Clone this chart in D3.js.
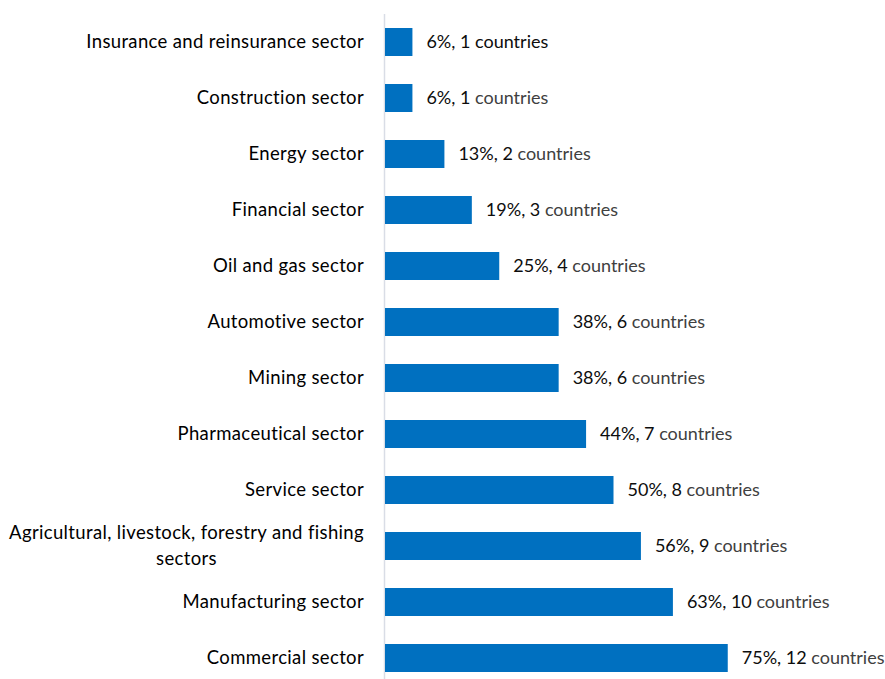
<!DOCTYPE html>
<html>
<head>
<meta charset="utf-8">
<script src="https://cdn.jsdelivr.net/npm/d3@7"></script>
<style>
  html, body { margin: 0; padding: 0; background: #fff; }
  svg { display: block; }
  text { font-family: Lato, "Open Sans", sans-serif; }
</style>
</head>
<body>
<svg id="chart" width="885" height="679"></svg>
<script>
// Sectors, listed top to bottom
const sectors = [
  ["Insurance and reinsurance sector"],
  ["Construction sector"],
  ["Energy sector"],
  ["Financial sector"],
  ["Oil and gas sector"],
  ["Automotive sector"],
  ["Mining sector"],
  ["Pharmaceutical sector"],
  ["Service sector"],
  ["Agricultural, livestock, forestry and fishing", "sectors"],
  ["Manufacturing sector"],
  ["Commercial sector"]
];
// Share of countries (%) and number of countries per sector
const percents = [6, 6, 13, 19, 25, 38, 38, 44, 50, 56, 63, 75];
const countries = [1, 1, 2, 3, 4, 6, 6, 7, 8, 9, 10, 12];

const svg = d3.select("#chart");
const idx = d3.range(sectors.length);

const x = d3.scaleLinear().domain([0, 100]).range([385, 842]);
const y = d3.scaleBand().domain(idx).range([14, 686])
  .paddingInner(0.5).paddingOuter(0.25);

// Vertical category axis line
svg.append("line")
  .attr("x1", 384.5).attr("x2", 384.5)
  .attr("y1", 14).attr("y2", 686)
  .attr("stroke", "#d9dde6").attr("stroke-width", 1.5);

// Bars
svg.append("g").selectAll("rect")
  .data(idx)
  .join("rect")
  .attr("x", x(0))
  .attr("y", i => y(i))
  .attr("width", i => x(percents[i]) - x(0))
  .attr("height", y.bandwidth())
  .attr("fill", "#0070c0");

// Category labels (multi-line labels are centred as a block, block right-aligned)
const labelRight = 364;
const catG = svg.append("g");
idx.forEach(i => {
  const lines = sectors[i];
  const cy = y(i) + y.bandwidth() / 2;
  const lh = 26;
  const t = catG.append("text")
    .attr("font-size", 18.5)
    .attr("letter-spacing", 0.35)
    .attr("fill", "#000");
  const spans = lines.map((s, k) => t.append("tspan")
    .attr("y", cy + (k - (lines.length - 1) / 2) * lh)
    .attr("dy", "0.35em")
    .text(s));
  const widths = spans.map(sp => sp.node().getComputedTextLength());
  const maxW = d3.max(widths);
  const center = labelRight - maxW / 2;
  spans.forEach(sp => sp.attr("x", center).attr("text-anchor", "middle"));
});

// Value labels
const valG = svg.append("g");
idx.forEach(i => {
  const t = valG.append("text")
    .attr("x", x(percents[i]) + 14)
    .attr("y", y(i) + y.bandwidth() / 2)
    .attr("dy", "0.35em")
    .attr("font-size", 18);
  t.append("tspan").attr("fill", "#0d0d0d")
    .text(`${percents[i]}%, ${countries[i]}`);
  t.append("tspan").attr("fill", i === 0 ? "#0d0d0d" : "#404040")
    .text(" countries");
});
</script>
</body>
</html>
